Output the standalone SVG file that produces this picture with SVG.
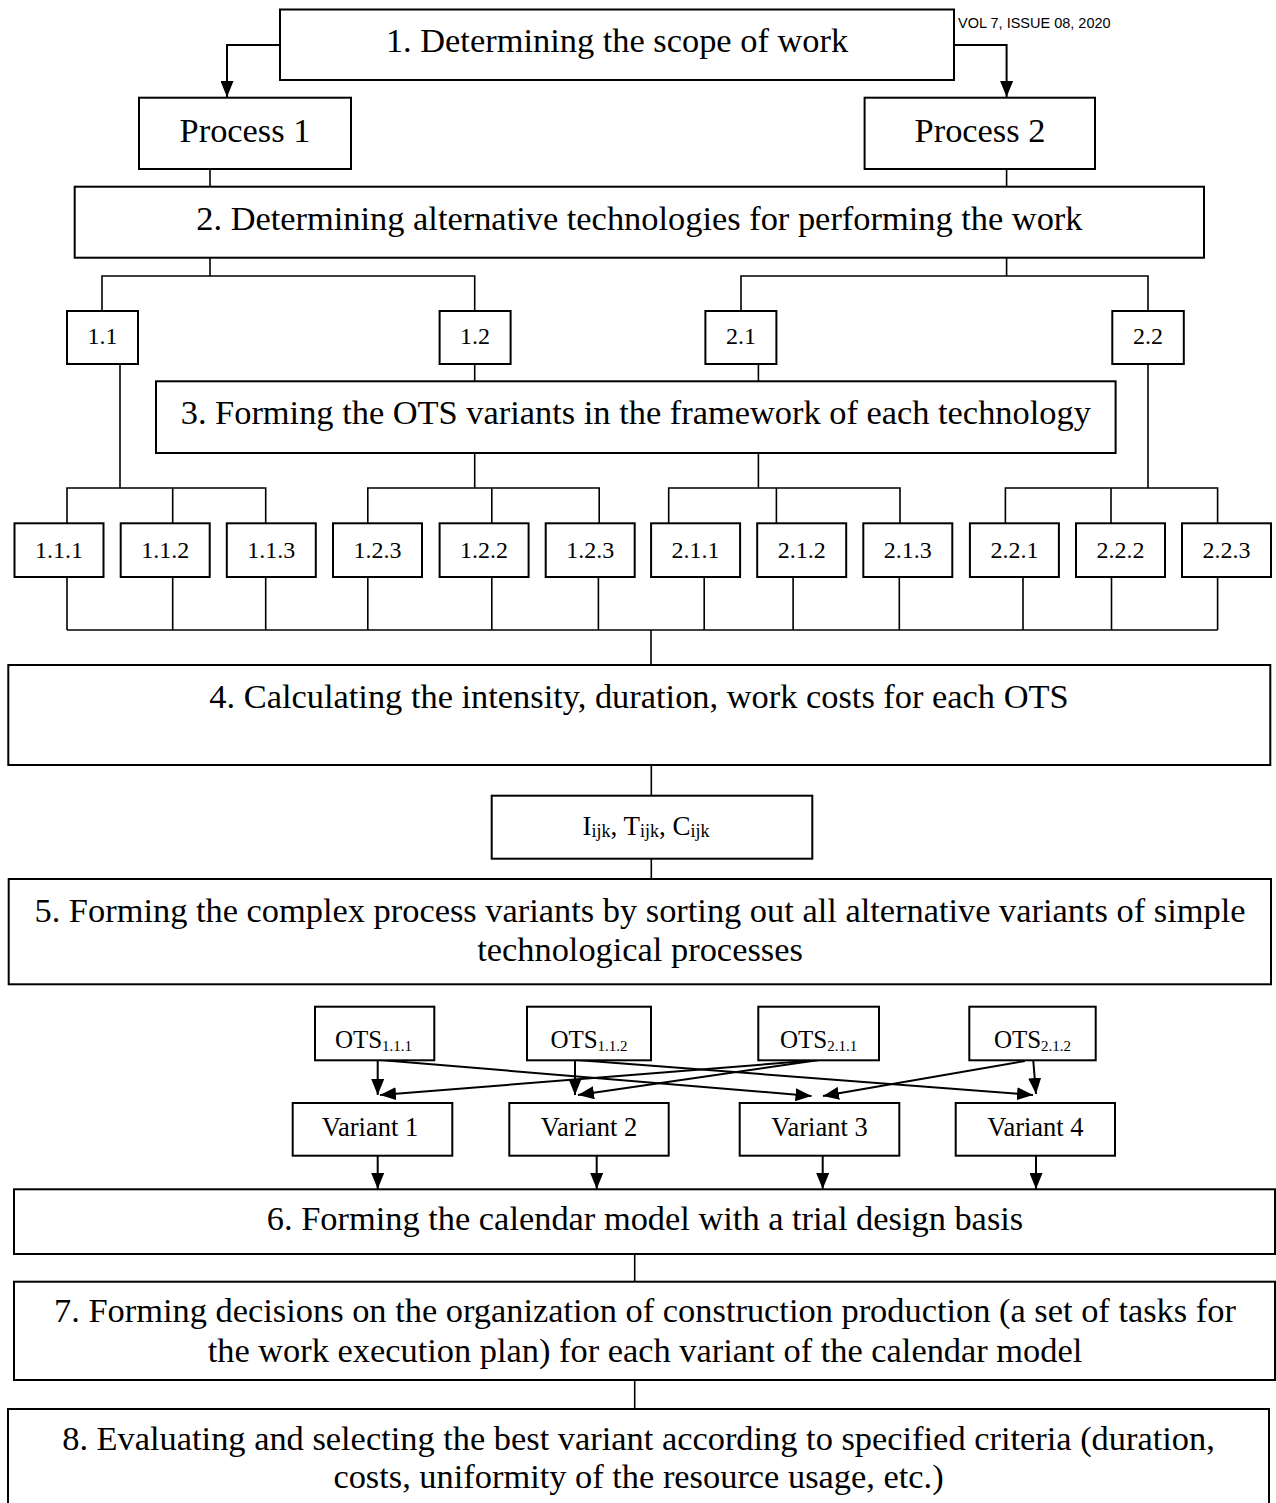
<svg xmlns="http://www.w3.org/2000/svg" width="1276" height="1503" viewBox="0 0 1276 1503">
<style>
.box{fill:#fff;stroke:#000;stroke-width:2}
.ln{fill:none;stroke:#000;stroke-width:1.6}
.ar{fill:none;stroke:#000;stroke-width:2;marker-end:url(#ah)}
text{font-family:"Liberation Serif","Times New Roman",serif;fill:#000;text-anchor:middle}
.big{font-size:34.4px}
.lvl{font-size:24px}
.ots{font-size:25px}
.sub{font-size:15px}
.var{font-size:26.5px}
.ijk{font-size:27px}
.isub{font-size:18px}
.hdr{font-family:"Liberation Sans",Arial,sans-serif;font-size:14.5px;text-anchor:start}
</style>
<defs>
<marker id="ah" viewBox="0 0 10 10" refX="10" refY="5" markerWidth="16" markerHeight="13" markerUnits="userSpaceOnUse" orient="auto" preserveAspectRatio="none">
<path d="M0,0 L10,5 L0,10 z" fill="#000"/>
</marker>
</defs>
<rect width="1276" height="1503" fill="#fff"/>
<text class="hdr" x="958" y="28">VOL 7, ISSUE 08, 2020</text>

<g id="connectors">
<path class="ar" d="M280,45 H227 V97"/>
<path class="ar" d="M954,45 H1006.6 V97"/>
<path class="ln" d="M210,169 V187"/>
<path class="ln" d="M1006.6,169 V187"/>
<path class="ln" d="M210,258 V276"/>
<path class="ln" d="M102,311 V276 H474.7 V311"/>
<path class="ln" d="M1006.6,258 V276"/>
<path class="ln" d="M741,311 V276 H1148 V311"/>
<path class="ln" d="M120,364 V488"/>
<path class="ln" d="M474.7,364 V381"/>
<path class="ln" d="M758.4,364 V381"/>
<path class="ln" d="M1148,364 V488"/>
<path class="ln" d="M474.7,453 V488"/>
<path class="ln" d="M758.4,453 V488"/>
<path class="ln" d="M67,523 V488 H265.7 V523 M172.7,488 V523"/>
<path class="ln" d="M367.8,523 V488 H599.2 V523 M491.8,488 V523"/>
<path class="ln" d="M668.7,523 V488 H900 V523 M776.4,488 V523"/>
<path class="ln" d="M1005.4,523 V488 H1217.6 V523 M1111,488 V523"/>
<path class="ln" d="M67,577 V630 M172.7,577 V630 M265.7,577 V630 M367.8,577 V630 M491.8,577 V630 M598.4,577 V630 M704.2,577 V630 M793.1,577 V630 M899.3,577 V630 M1023,577 V630 M1111.5,577 V630 M1217.6,577 V630"/>
<path class="ln" d="M67,630 H1217.6"/>
<path class="ln" d="M651,630 V665"/>
<path class="ln" d="M651.3,765 V796"/>
<path class="ln" d="M651.3,859 V879"/>
<path class="ar" d="M377.7,1060 V1095"/>
<path class="ar" d="M819,1060 L380,1095"/>
<path class="ar" d="M575,1060 V1095"/>
<path class="ar" d="M819,1060 L578,1095"/>
<path class="ar" d="M380,1060 L811.5,1096"/>
<path class="ar" d="M1025,1061 L823,1096"/>
<path class="ar" d="M576.7,1060 L1033,1095"/>
<path class="ar" d="M1033.3,1061 L1036,1094"/>
<path class="ar" d="M377.7,1156 V1189"/>
<path class="ar" d="M596.7,1156 V1189"/>
<path class="ar" d="M822.7,1156 V1189"/>
<path class="ar" d="M1036,1156 V1189"/>
<path class="ln" d="M634.7,1254 V1282"/>
<path class="ln" d="M634.7,1380 V1409"/>
</g>

<g id="n1"><rect class="box" x="280" y="9.5" width="674" height="70.5"/><text class="big" x="617" y="52">1. Determining the scope of work</text></g>
<g id="p1"><rect class="box" x="139" y="97.7" width="212" height="71.3"/><text class="big" x="245" y="142">Process 1</text></g>
<g id="p2"><rect class="box" x="864.6" y="97.7" width="230.4" height="71.3"/><text class="big" x="980" y="142">Process 2</text></g>
<g id="n2"><rect class="box" x="74.7" y="186.7" width="1129.3" height="71"/><text class="big" x="639.4" y="229.5">2. Determining alternative technologies for performing the work</text></g>
<g id="t11"><rect class="box" x="67" y="311" width="71" height="53"/><text class="lvl" x="102.5" y="344">1.1</text></g>
<g id="t12"><rect class="box" x="439.6" y="311" width="71" height="53"/><text class="lvl" x="475.1" y="344">1.2</text></g>
<g id="t21"><rect class="box" x="705.4" y="311" width="71" height="53"/><text class="lvl" x="740.9" y="344">2.1</text></g>
<g id="t22"><rect class="box" x="1112.3" y="311" width="71.5" height="53"/><text class="lvl" x="1148" y="344">2.2</text></g>
<g id="n3"><rect class="box" x="156" y="381.3" width="959.6" height="71.7"/><text class="big" x="635.8" y="424">3. Forming the OTS variants in the framework of each technology</text></g>

<g id="v111"><rect class="box" x="14.5" y="523.3" width="89" height="53.7"/><text class="lvl" x="59" y="557.5">1.1.1</text></g>
<g id="v112"><rect class="box" x="120.7" y="523.3" width="89" height="53.7"/><text class="lvl" x="165.2" y="557.5">1.1.2</text></g>
<g id="v113"><rect class="box" x="226.8" y="523.3" width="89" height="53.7"/><text class="lvl" x="271.3" y="557.5">1.1.3</text></g>
<g id="v123a"><rect class="box" x="333" y="523.3" width="89" height="53.7"/><text class="lvl" x="377.5" y="557.5">1.2.3</text></g>
<g id="v122"><rect class="box" x="439.6" y="523.3" width="89" height="53.7"/><text class="lvl" x="484.1" y="557.5">1.2.2</text></g>
<g id="v123b"><rect class="box" x="545.7" y="523.3" width="89" height="53.7"/><text class="lvl" x="590.2" y="557.5">1.2.3</text></g>
<g id="v211"><rect class="box" x="651.1" y="523.3" width="89" height="53.7"/><text class="lvl" x="695.6" y="557.5">2.1.1</text></g>
<g id="v212"><rect class="box" x="757.2" y="523.3" width="89" height="53.7"/><text class="lvl" x="801.7" y="557.5">2.1.2</text></g>
<g id="v213"><rect class="box" x="863.3" y="523.3" width="89" height="53.7"/><text class="lvl" x="907.8" y="557.5">2.1.3</text></g>
<g id="v221"><rect class="box" x="969.9" y="523.3" width="89" height="53.7"/><text class="lvl" x="1014.4" y="557.5">2.2.1</text></g>
<g id="v222"><rect class="box" x="1076" y="523.3" width="89" height="53.7"/><text class="lvl" x="1120.5" y="557.5">2.2.2</text></g>
<g id="v223"><rect class="box" x="1182" y="523.3" width="89" height="53.7"/><text class="lvl" x="1226.5" y="557.5">2.2.3</text></g>

<g id="n4"><rect class="box" x="8.3" y="665" width="1262" height="100"/><text class="big" x="639" y="708">4. Calculating the intensity, duration, work costs for each OTS</text></g>
<g id="ijk"><rect class="box" x="491.7" y="795.7" width="320.6" height="63"/><text class="ijk" x="646" y="835">I<tspan class="isub" dy="2">ijk</tspan><tspan dy="-2">, T</tspan><tspan class="isub" dy="2">ijk</tspan><tspan dy="-2">, C</tspan><tspan class="isub" dy="2">ijk</tspan></text></g>
<g id="n5"><rect class="box" x="8.7" y="879" width="1262.3" height="105.3"/><text class="big" x="640" y="922">5. Forming the complex process variants by sorting out all alternative variants of simple</text><text class="big" x="640" y="961">technological processes</text></g>

<g id="o111"><rect class="box" x="315" y="1006.7" width="119.3" height="53.6"/><text class="ots" x="373.5" y="1048">OTS<tspan class="sub" dy="3">1.1.1</tspan></text></g>
<g id="o112"><rect class="box" x="527" y="1006.7" width="124" height="53.6"/><text class="ots" x="589" y="1048">OTS<tspan class="sub" dy="3">1.1.2</tspan></text></g>
<g id="o211"><rect class="box" x="758.3" y="1006.7" width="120.7" height="53.6"/><text class="ots" x="818.6" y="1048">OTS<tspan class="sub" dy="3">2.1.1</tspan></text></g>
<g id="o212"><rect class="box" x="969.3" y="1006.7" width="126.4" height="53.6"/><text class="ots" x="1032.5" y="1048">OTS<tspan class="sub" dy="3">2.1.2</tspan></text></g>

<g id="var1"><rect class="box" x="292.7" y="1103" width="159.6" height="52.7"/><text class="var" x="370" y="1136">Variant 1</text></g>
<g id="var2"><rect class="box" x="509.3" y="1103" width="159.4" height="52.7"/><text class="var" x="589" y="1136">Variant 2</text></g>
<g id="var3"><rect class="box" x="739.7" y="1103" width="159.6" height="52.7"/><text class="var" x="819.5" y="1136">Variant 3</text></g>
<g id="var4"><rect class="box" x="955.7" y="1103" width="159.3" height="52.7"/><text class="var" x="1035.4" y="1136">Variant 4</text></g>

<g id="n6"><rect class="box" x="14" y="1189.3" width="1261" height="64.7"/><text class="big" x="645" y="1230">6. Forming the calendar model with a trial design basis</text></g>
<g id="n7"><rect class="box" x="14" y="1281.7" width="1261" height="98.3"/><text class="big" x="645" y="1322">7. Forming decisions on the organization of construction production (a set of tasks for</text><text class="big" x="645" y="1362">the work execution plan) for each variant of the calendar model</text></g>
<g id="n8"><rect class="box" x="8" y="1409" width="1261" height="100"/><text class="big" x="638.5" y="1450">8. Evaluating and selecting the best variant according to specified criteria (duration,</text><text class="big" x="638.5" y="1488">costs, uniformity of the resource usage, etc.)</text></g>
</svg>
